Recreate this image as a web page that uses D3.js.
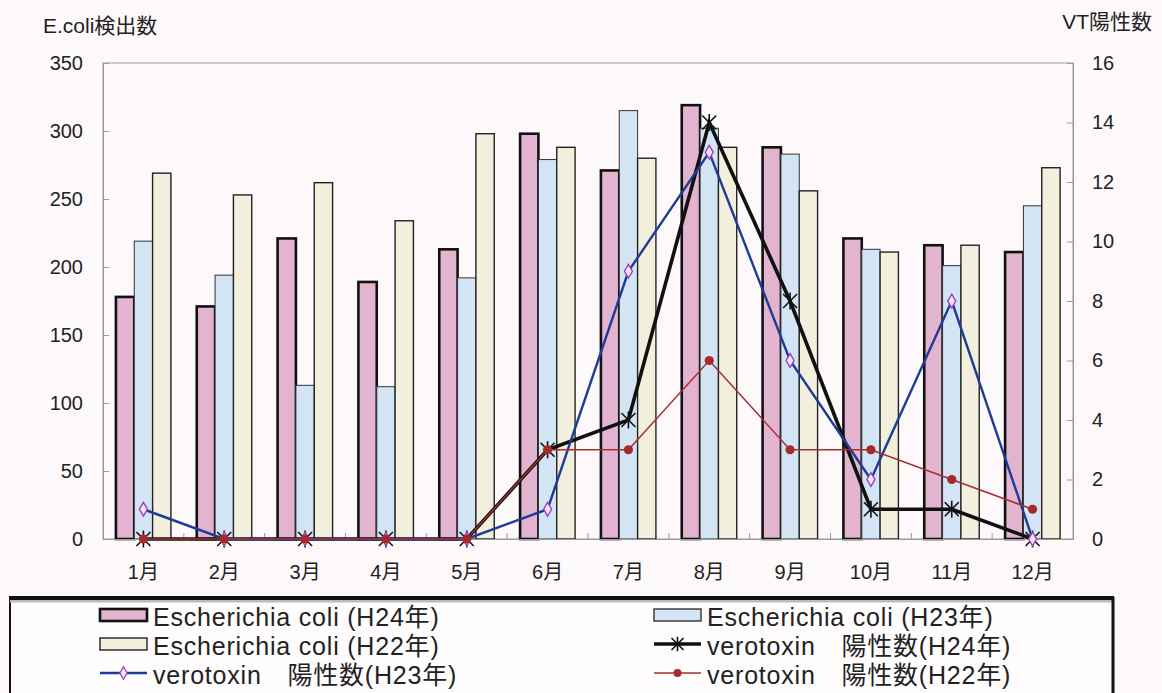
<!DOCTYPE html>
<html><head><meta charset="utf-8">
<script src="https://cdn.jsdelivr.net/npm/d3@7"></script>
<style>
html,body{margin:0;padding:0;background:#fdf9fb;}
svg{display:block;}
text{font-family:"Liberation Sans","Noto Sans CJK JP",sans-serif;fill:#222;}
</style></head>
<body>
<svg id="c" width="1162" height="693"></svg>
<script>
const months = ['1月','2月','3月','4月','5月','6月','7月','8月','9月','10月','11月','12月'];
const ecoliH24 = [178,171,221,189,213,298,271,319,288,221,216,211];
const ecoliH23 = [219,194,113,112,192,279,315,302,283,213,201,245];
const ecoliH22 = [269,253,262,234,298,288,280,288,256,211,216,273];
const vtH24 = [0,0,0,0,0,3,4,14,8,1,1,0];
const vtH23 = [1,0,0,0,0,1,9,13,6,2,8,0];
const vtH22 = [0,0,0,0,0,3,3,6,3,3,2,1];
const leftTicks = [0,50,100,150,200,250,300,350];
const rightTicks = [0,2,4,6,8,10,12,14,16];
const barSeries = ['H24','H23','H22'];

const svg = d3.select('#c');
const L = 103, R = 1073, T = 63, B = 539;

const x0 = d3.scaleBand().domain(months).range([L, R]);
const groupW = 55;
const x1 = d3.scaleBand().domain(barSeries).range([0, groupW]);
const off = (x0.bandwidth() - groupW) / 2;
const yL = d3.scaleLinear().domain([0, 350]).range([B, T]);
const yR = d3.scaleLinear().domain([0, 16]).range([B, T]);

const barStyle = {
  H24: {fill:'#e2b4d0', stroke:'#111', sw:2.6, data: ecoliH24},
  H23: {fill:'#d3e4f4', stroke:'#333', sw:1, data: ecoliH23},
  H22: {fill:'#f2efdc', stroke:'#222', sw:1.4, data: ecoliH22}
};

// plot frame
svg.append('rect').attr('x', L).attr('y', T).attr('width', R - L).attr('height', B - T)
  .attr('fill', 'none').attr('stroke', '#999').attr('stroke-width', 1);

// bars
barSeries.forEach(s => {
  const st = barStyle[s];
  svg.append('g').selectAll('rect').data(months).join('rect')
    .attr('x', (m) => x0(m) + off + x1(s))
    .attr('y', (m, i) => yL(st.data[i]))
    .attr('width', x1.bandwidth())
    .attr('height', (m, i) => B - yL(st.data[i]))
    .attr('fill', st.fill).attr('stroke', st.stroke).attr('stroke-width', st.sw);
});

// axes
const gL = svg.append('g').attr('transform', `translate(${L},0)`)
  .call(d3.axisLeft(yL).tickValues(leftTicks).tickSize(-6).tickPadding(20));
const gR = svg.append('g').attr('transform', `translate(${R},0)`)
  .call(d3.axisRight(yR).tickValues(rightTicks).tickSize(-6).tickPadding(19));
const gX = svg.append('g').attr('transform', `translate(0,${B})`)
  .call(d3.axisBottom(x0).tickSize(0).tickPadding(26));
[gL, gR, gX].forEach(g => {
  g.select('.domain').attr('stroke', '#999');
  g.selectAll('.tick line').attr('stroke', '#999');
  g.selectAll('.tick text').attr('font-size', 20).attr('fill', '#222')
    .attr('font-family', '"Liberation Sans","Noto Sans CJK JP",sans-serif');
});
// category boundary ticks
svg.append('g').selectAll('line').data(months.slice(1)).join('line')
  .attr('x1', m => x0(m)).attr('x2', m => x0(m))
  .attr('y1', B).attr('y2', B - 6).attr('stroke', '#999');

// axis titles
svg.append('text').attr('x', 43).attr('y', 33).attr('font-size', 21).text('E.coli検出数');
svg.append('text').attr('x', 1152).attr('y', 29).attr('font-size', 21).attr('text-anchor', 'end').text('VT陽性数');

// lines
const cx = m => x0(m) + x0.bandwidth() / 2;
const lineGen = (data) => d3.line().x((m) => cx(m)).y((m, i) => yR(data[i]))(months);

function asterisk(sel, size) {
  const r = size;
  sel.attr('d', `M${-r},${-r}L${r},${r}M${-r},${r}L${r},${-r}M0,${-r * 1.2}L0,${r * 1.2}`)
    .attr('fill', 'none').attr('stroke', '#111').attr('stroke-width', 1.6);
}

// H24
svg.append('path').attr('d', lineGen(vtH24)).attr('fill', 'none').attr('stroke', '#111').attr('stroke-width', 3.6).attr('stroke-linejoin', 'miter');
svg.append('g').selectAll('path').data(months).join('path')
  .attr('transform', (m, i) => `translate(${cx(m)},${yR(vtH24[i])})`).call(asterisk, 7);
// H23
svg.append('path').attr('d', lineGen(vtH23)).attr('fill', 'none').attr('stroke', '#1e3c96').attr('stroke-width', 2.4);
svg.append('g').selectAll('path').data(months).join('path')
  .attr('transform', (m, i) => `translate(${cx(m)},${yR(vtH23[i])})`)
  .attr('d', d3.symbol(d3.symbolDiamond, 55)()).attr('fill', '#f3e6f3').attr('stroke', '#a03cc0').attr('stroke-width', 1.4);
// H22
svg.append('path').attr('d', lineGen(vtH22)).attr('fill', 'none').attr('stroke', '#a33030').attr('stroke-width', 1.5);
svg.append('g').selectAll('circle').data(months).join('circle')
  .attr('cx', m => cx(m)).attr('cy', (m, i) => yR(vtH22[i])).attr('r', 4.6).attr('fill', '#a52a2a');

// legend box
const lg = svg.append('g');
lg.append('rect').attr('x', 10).attr('y', 597).attr('width', 1103).attr('height', 130)
  .attr('fill', '#fefcfd').attr('stroke', '#111').attr('stroke-width', 2);
lg.append('line').attr('x1', 10).attr('x2', 1113).attr('y1', 601).attr('y2', 601).attr('stroke', '#bbb').attr('stroke-width', 3);
lg.append('line').attr('x1', 10).attr('x2', 1113).attr('y1', 598).attr('y2', 598).attr('stroke', '#111').attr('stroke-width', 4);
lg.append('line').attr('x1', 1113).attr('x2', 1113).attr('y1', 597).attr('y2', 693).attr('stroke', '#111').attr('stroke-width', 3);

const legendItems = [
  {type:'bar', s:'H24', label:'Escherichia coli (H24年)', col:0, row:0},
  {type:'bar', s:'H23', label:'Escherichia coli (H23年)', col:1, row:0},
  {type:'bar', s:'H22', label:'Escherichia coli (H22年)', col:0, row:1},
  {type:'l24', label:'verotoxin　陽性数(H24年)', col:1, row:1},
  {type:'l23', label:'verotoxin　陽性数(H23年)', col:0, row:2},
  {type:'l22', label:'verotoxin　陽性数(H22年)', col:1, row:2}
];
const colX = [100, 654], rowY = [626, 655, 684], swW = 47;
legendItems.forEach(it => {
  const x = colX[it.col], base = rowY[it.row], mid = base - 11;
  const g = lg.append('g');
  if (it.type === 'bar') {
    const st = barStyle[it.s];
    g.append('rect').attr('x', x).attr('y', mid - 6).attr('width', swW).attr('height', 12)
      .attr('fill', st.fill).attr('stroke', st.stroke).attr('stroke-width', it.s === 'H24' ? 2.6 : 1.4);
  } else if (it.type === 'l24') {
    g.append('line').attr('x1', x).attr('x2', x + swW).attr('y1', mid).attr('y2', mid).attr('stroke', '#111').attr('stroke-width', 3.6);
    g.append('path').attr('transform', `translate(${x + swW / 2},${mid})`).call(asterisk, 6);
  } else if (it.type === 'l23') {
    g.append('line').attr('x1', x).attr('x2', x + swW).attr('y1', mid).attr('y2', mid).attr('stroke', '#1e3c96').attr('stroke-width', 2.4);
    g.append('path').attr('transform', `translate(${x + swW / 2},${mid})`)
      .attr('d', d3.symbol(d3.symbolDiamond, 45)()).attr('fill', '#f3e6f3').attr('stroke', '#a03cc0').attr('stroke-width', 1.3);
  } else {
    g.append('line').attr('x1', x).attr('x2', x + swW).attr('y1', mid).attr('y2', mid).attr('stroke', '#a33030').attr('stroke-width', 1.5);
    g.append('circle').attr('cx', x + swW / 2).attr('cy', mid).attr('r', 4).attr('fill', '#a52a2a');
  }
  g.append('text').attr('x', x + swW + 6).attr('y', base).attr('font-size', 25)
    .attr('letter-spacing', 0.8).text(it.label);
});
</script>
</body></html>
